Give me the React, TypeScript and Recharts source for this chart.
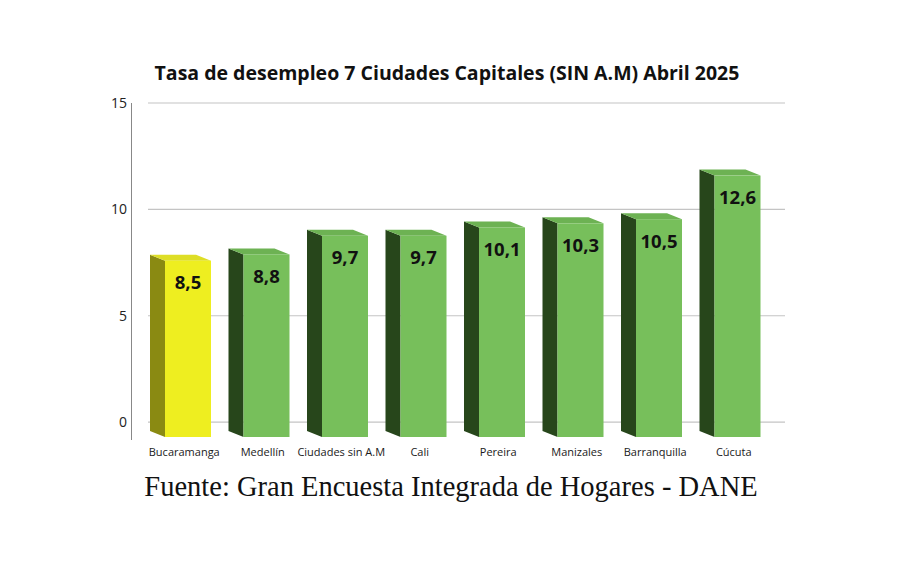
import { BarChart, Bar, XAxis, YAxis, CartesianGrid, LabelList } from "recharts";

const cities = ["Bucaramanga", "Medellín", "Ciudades sin A.M", "Cali", "Pereira", "Manizales", "Barranquilla", "Cúcuta"];
const rates = [8.5, 8.8, 9.7, 9.7, 10.1, 10.3, 10.5, 12.6];
const highlighted = ["Bucaramanga"];
const yTicks = [0, 5, 10, 15];

const data = cities.map((city, i) => ({ city, rate: rates[i] }));

const DEPTH_X = 15;
const DEPTH_Y = 6;

const palette = {
   green: { front: "#77bf5b", top: "#6db253", side: "#27461b" },
   yellow: { front: "#eeee20", top: "#dede26", side: "#8a8a12" },
};

function Bar3D(props: any) {
   const { x, y, width, height, payload } = props;
   if (height <= 0) return null;
   const c = highlighted.includes(payload.city) ? palette.yellow : palette.green;
   const bottom = y + height;
   const side = `${x},${y} ${x - DEPTH_X},${y - DEPTH_Y} ${x - DEPTH_X},${bottom - DEPTH_Y} ${x},${bottom}`;
   const top = `${x},${y} ${x - DEPTH_X},${y - DEPTH_Y} ${x + width - DEPTH_X},${y - DEPTH_Y} ${x + width},${y}`;
   return (
      <g>
         <polygon points={side} fill={c.side} />
         <polygon points={top} fill={c.top} />
         <rect x={x} y={y} width={width} height={height} fill={c.front} />
      </g>
   );
}

function ValueLabel(props: any) {
   const { x, y, width, value } = props;
   return (
      <text
         x={x + width / 2}
         y={y + 21}
         textAnchor="middle"
         dominantBaseline="central"
         fontFamily="'Open Sans', sans-serif"
         fontWeight={700}
         fontSize={18.5}
         fill="#111"
      >
         {String(value).replace(".", ",")}
      </text>
   );
}

export default function App() {
   return (
      <div style={{ position: "absolute", left: 0, top: 0, width: 900, height: 583, background: "#fff" }}>
         <div
            style={{
               position: "absolute",
               left: 0,
               top: 59,
               width: 894,
               textAlign: "center",
               fontFamily: "'Open Sans', sans-serif",
               fontWeight: 700,
               fontSize: 19.5,
               color: "#111",
            }}
         >
            Tasa de desempleo 7 Ciudades Capitales (SIN A.M) Abril 2025
         </div>
         <div style={{ position: "absolute", left: 131, top: 103, width: 1, height: 337, background: "#888" }} />
         <BarChart width={900} height={583} data={data} margin={{ top: 103, right: 115, left: 100, bottom: 116 }}>
            <CartesianGrid vertical={false} syncWithTicks stroke="#c4c4c4" strokeWidth={1.2} />
            <YAxis
               width={48}
               type="number"
               domain={[-0.7, 15]}
               allowDataOverflow
               ticks={yTicks}
               axisLine={false}
               tickLine={false}
               tickSize={0}
               tickMargin={21}
               tick={{ fill: "#222", fontSize: 14, fontFamily: "'Open Sans', sans-serif" }}
            />
            <YAxis yAxisId="bar" hide type="number" domain={[0, 16.1]} allowDataOverflow />
            <XAxis
               dataKey="city"
               height={30}
               axisLine={false}
               tickLine={false}
               tickSize={0}
               tickMargin={11}
               padding={{ left: 1, right: 8 }}
               tick={{ fill: "#1a1a1a", fontSize: 11, fontFamily: "'Open Sans', sans-serif", dx: -4 }}
               interval={0}
            />
            <Bar yAxisId="bar" dataKey="rate" barSize={46} shape={<Bar3D />} isAnimationActive={false}>
               <LabelList dataKey="rate" content={<ValueLabel />} />
            </Bar>
         </BarChart>
         <div
            style={{
               position: "absolute",
               left: 0,
               top: 471,
               width: 902,
               textAlign: "center",
               fontFamily: "'Liberation Serif', serif",
               fontSize: 28.5,
               color: "#111",
            }}
         >
            Fuente: Gran Encuesta Integrada de Hogares - DANE
         </div>
      </div>
   );
}
